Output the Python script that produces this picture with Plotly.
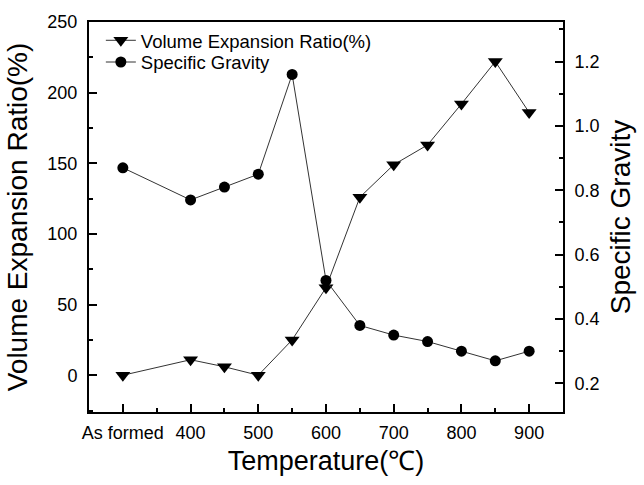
import plotly.graph_objects as go

# Data
x_pos = [300, 400, 450, 500, 550, 600, 650, 700, 750, 800, 850, 900]
tick_vals = [300, 400, 500, 600, 700, 800, 900]
tick_text = ["As formed", "400", "500", "600", "700", "800", "900"]
volume_expansion = [0, 11, 6, 0, 25, 62, 126, 149, 163, 192, 222, 186]
specific_gravity = [0.87, 0.77, 0.81, 0.85, 1.16, 0.52, 0.38, 0.35, 0.33, 0.30, 0.27, 0.30]

FONT = "Liberation Sans, Arial, Helvetica, sans-serif"

fig = go.Figure()
fig.add_trace(go.Scatter(
    x=x_pos, y=volume_expansion, name="Volume Expansion Ratio(%)",
    mode="lines+markers",
    line=dict(color="#333333", width=1),
    marker=dict(symbol="triangle-down", size=13, color="black"),
    yaxis="y", legend="legend"))
fig.add_trace(go.Scatter(
    x=x_pos, y=specific_gravity, name="Specific Gravity",
    mode="lines+markers",
    line=dict(color="#333333", width=1),
    marker=dict(symbol="circle", size=11, color="black"),
    yaxis="y2", legend="legend2"))

axis_common = dict(
    showgrid=False, zeroline=False, showline=True, linecolor="black", linewidth=2,
    ticks="inside", ticklen=8, tickwidth=1.5, tickcolor="black",
    tickfont=dict(family=FONT, size=18, color="black"),
)

legend_common = dict(xanchor="left", yanchor="middle", bgcolor="rgba(0,0,0,0)",
                     font=dict(family=FONT, size=18.5, color="black"),
                     borderwidth=0)

fig.update_layout(
    width=644, height=485,
    margin=dict(l=89, r=81, t=17, b=73),
    paper_bgcolor="white", plot_bgcolor="white",
    font=dict(family=FONT, color="black"),
    showlegend=True,
    legend=dict(x=0.025, y=(412 - 36) / 395, **legend_common),
    legend2=dict(x=0.025, y=(412 - 58) / 395, **legend_common),
    xaxis=dict(
        **axis_common,
        range=[250, 950], mirror=True,
        tickmode="array", tickvals=tick_vals, ticktext=tick_text,
        minor=dict(ticks="inside", ticklen=4, tickwidth=1.5, tickcolor="black",
                   tick0=250, dtick=50),
        ticklabelstandoff=3,
        title=dict(text="Temperature(℃)", font=dict(family=FONT, size=27, color="black"),
                   standoff=10),
    ),
    yaxis=dict(
        **axis_common,
        range=[-26, 250], mirror=True,
        tickmode="linear", tick0=0, dtick=50,
        minor=dict(ticks="inside", ticklen=4, tickwidth=1.5, tickcolor="black",
                   tick0=0, dtick=25),
        ticklabelstandoff=6,
        title=dict(text="Volume Expansion Ratio(%)", font=dict(family=FONT, size=28, color="black"),
                   standoff=12),
    ),
    yaxis2=dict(
        **axis_common,
        overlaying="y", side="right",
        range=[0.111, 1.323],
        tickmode="linear", tick0=0.2, dtick=0.2, tickformat=".1f",
        minor=dict(ticks="inside", ticklen=4, tickwidth=1.5, tickcolor="black",
                   tick0=0.1, dtick=0.1),
        ticklabelstandoff=6,
        title=dict(text="Specific Gravity", font=dict(family=FONT, size=28, color="black"),
                   standoff=12),
    ),
)

fig.write_html("out.html")
